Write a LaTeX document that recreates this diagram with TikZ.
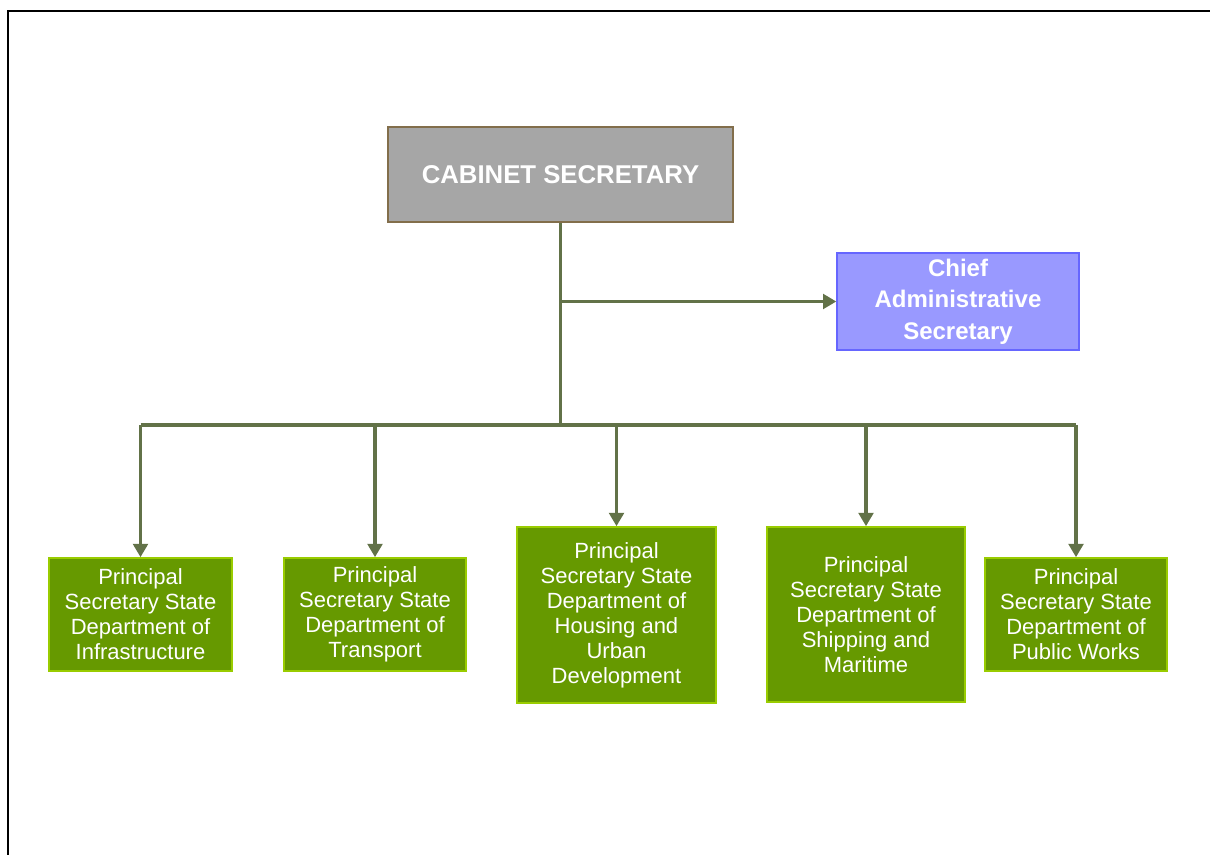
\documentclass[tikz,border=0pt]{standalone}
\usepackage{fontspec}
\setmainfont{Liberation Sans}
\usetikzlibrary{arrows.meta}
\definecolor{linkgreen}{RGB}{98,114,72}
\definecolor{csgray}{RGB}{166,166,166}
\definecolor{csedge}{RGB}{130,110,75}
\definecolor{casfill}{RGB}{153,153,255}
\definecolor{casedge}{RGB}{102,102,255}
\definecolor{psfill}{RGB}{102,153,0}
\definecolor{psedge}{RGB}{153,204,0}
\tikzset{
  psbox/.style={draw=psedge, fill=psfill, line width=1.2pt, text=white, align=center,
    inner sep=0pt, font=\fontsize{16.5}{18.75}\selectfont},
  link/.style={draw=linkgreen, line width=2.4pt},
  linkarrow/.style={link, -{Triangle[length=10pt,width=11pt]}}
}
\begin{document}
\begin{tikzpicture}[x=0.75pt,y=-0.75pt]
			\useasboundingbox (0,0) rectangle (1210,855);
			\draw[line width=2pt] (8,855) -- (8,11) -- (1210,11);
			% top of the chart
			\node[draw=csedge, fill=csgray, line width=1pt, text=white, minimum width=258.75pt, minimum height=71.25pt,
				font=\bfseries\fontsize{19.3}{22}\selectfont] (cabinet) at (560.5,174.5) {CABINET SECRETARY};
			\node[draw=casedge, fill=casfill, line width=1pt, text=white, align=center, minimum width=181.5pt,
				minimum height=72.75pt, inner sep=0pt, font=\bfseries\fontsize{18}{23.5}\selectfont] (chief) at (958,301.5)
				{Chief\\Administrative\\Secretary};
			% principal secretaries
			\node[psbox, minimum width=137.25pt, minimum height=84.75pt] (infra) at (140.5,614.5)
				{Principal\\Secretary State\\Department of\\Infrastructure};
			\node[psbox, minimum width=136.5pt, minimum height=84.75pt] (transport) at (375,614.5)
				{Principal\\Secretary State\\Department of\\Transport};
			\node[psbox, minimum width=149.25pt, minimum height=132pt] (housing) at (616.5,615)
				{Principal\\Secretary State\\Department of\\Housing and\\Urban\\Development};
			\node[psbox, minimum width=148.5pt, minimum height=131.25pt] (shipping) at (866,614.5)
				{Principal\\Secretary State\\Department of\\Shipping and\\Maritime};
			\node[psbox, minimum width=136.5pt, minimum height=84.75pt] (works) at (1076,614.5)
				{Principal\\Secretary State\\Department of\\Public Works};
			% connectors
			\coordinate (branch) at (cabinet.south |- chief.west);
			\coordinate (hub) at (560.5,425);
			\coordinate (busleft) at (infra.north |- hub);
			\coordinate (busright) at (works.north |- hub);
			\draw[link] (cabinet.south) -- (hub);
			\draw[linkarrow] (branch) -- (chief.west);
			\draw[link] (busleft) -- (busright);
			\foreach \ps in {infra,transport,housing,shipping,works}
				\draw[linkarrow] (\ps.north |- hub) -- (\ps.north);
		\end{tikzpicture}
\end{document}
